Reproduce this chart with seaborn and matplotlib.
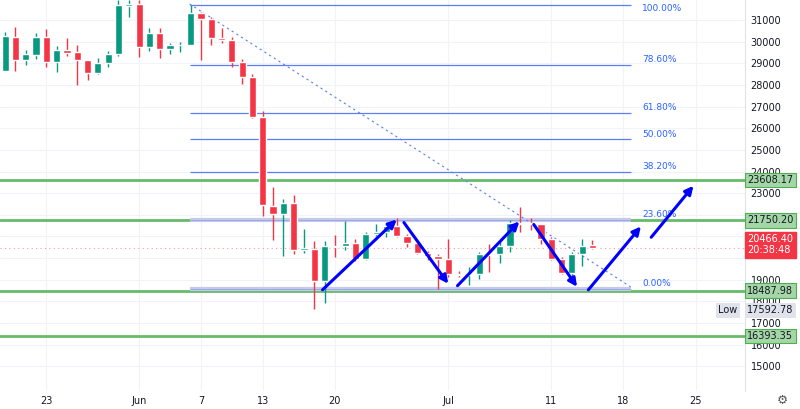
import matplotlib
matplotlib.use("Agg")
import matplotlib.pyplot as plt
import seaborn as sns
import numpy as np

# daily candles, May 19 .. Jul 15
opens = [28640, 30240, 29140, 29370, 30240, 29050, 29600, 29510, 29140, 28550,
         29000, 29420, 31660, 31750, 29740, 30420, 29650, 29830, 29870, 31340,
         31060, 30150, 30060, 29050, 28370, 26540, 22420, 22050, 22560, 20360,
         20410, 18950, 20550, 20550, 20680, 19950, 21090, 21190, 21460, 21000,
         20680, 20230, 20090, 19950, 19270, 19220, 19270, 20180, 20180, 20550,
         21600, 21600, 21550, 20870, 19950, 19310, 20180, 20590]
highs = [30470, 30700, 29600, 30420, 30600, 29780, 30150, 29830, 29140, 29230,
         29550, 31930, 31930, 31930, 30650, 30650, 29920, 30010, 31700, 31380,
         31150, 30650, 30240, 29190, 28500, 26810, 23290, 22740, 22920, 21320,
         20770, 20770, 21050, 21730, 20870, 21190, 21550, 21550, 21870, 21090,
         20730, 20320, 20180, 20870, 19400, 19590, 20270, 20640, 20820, 21780,
         22380, 21870, 21550, 20960, 20040, 20270, 20870, 20820]
lows = [28640, 28640, 28910, 29190, 28820, 28590, 29320, 27990, 28230, 28500,
        28820, 29320, 31150, 29280, 29550, 29230, 29420, 29510, 29830, 29140,
        29830, 29920, 28820, 28040, 26490, 21920, 20820, 20090, 20180, 20230,
        17620, 17940, 20040, 20360, 19860, 19910, 21000, 20960, 20960, 20500,
        20180, 19910, 18580, 19130, 19130, 18760, 19040, 19360, 19770, 20270,
        21190, 21280, 20640, 19910, 19270, 19130, 19630, 20410]
closes = [30280, 29140, 29420, 30240, 29050, 29600, 29460, 29140, 28550, 29000,
          29420, 31700, 31750, 29740, 30420, 29650, 29830, 29870, 31340, 31060,
          30150, 30060, 29050, 28370, 26540, 22470, 22050, 22560, 20360, 20450,
          18950, 20550, 20500, 20680, 19950, 21090, 21190, 21460, 21000, 20680,
          20230, 20090, 19950, 19270, 19220, 19270, 20180, 20160, 20550, 21600,
          21570, 21580, 20870, 19950, 19310, 20180, 20550, 20466]

support_levels = [23608.17, 21750.20, 18487.98, 16393.35]
fib_labels = ["100.00%", "78.60%", "61.80%", "50.00%", "38.20%", "23.60%", "0.00%"]
fib_prices = [31700, 28910, 26720, 25480, 23970, 21780, 18580]
current_price = 20466.40
low_price = 17592.78

price_ticks = [15000, 16000, 17000, 18000, 19000, 21000, 23000, 24000, 25000,
               26000, 27000, 28000, 29000, 30000, 31000]
tick_pos = [4, 13, 19, 25, 32, 43, 53, 60, 67]
tick_labels = ["23", "Jun", "7", "13", "20", "Jul", "11", "18", "25"]

# swing arrows (day index, price)
arrows = [((30.8, 18530), (38.0, 21780)), ((38.7, 21640), (43.0, 18810)),
          ((43.9, 18720), (49.9, 21690)), ((51.3, 21550), (55.5, 18670)),
          ((56.6, 18530), (61.7, 21460)), ((62.7, 20960), (66.8, 23340))]
trend = [(17.9, 31750), (60.7, 18670)]

sns.set_style("white")
fig = plt.figure(figsize=(8, 4.09), dpi=100)
ax = fig.add_axes([0, 0.045, 745 / 800, 0.955])

GREEN, RED = "#089981", "#f23645"
idx = np.arange(len(opens))
o, h, l, c = map(np.array, (opens, highs, lows, closes))
cols = [GREEN if cc >= oo else RED for oo, cc in zip(o, c)]
ax.vlines(idx, l, h, colors=cols, linewidth=1, zorder=3)
body = np.maximum(np.abs(c - o), 40)
ax.bar(idx, body, bottom=np.minimum(o, c), width=0.7, color=cols, zorder=4)

for p in support_levels:
    ax.axhline(p, color="#66bb6a", linewidth=2, zorder=2)

for lab, p in zip(fib_labels, fib_prices):
    lw = 3 if lab in ("0.00%", "23.60%") else 0.9
    col = "#c5cae9" if lw == 3 else "#5b7ff0"
    ax.hlines(p, 17.9, 60.7, color=col, linewidth=lw, zorder=2)
    if lw == 3:
        ax.hlines(p, 17.9, 60.7, color="#5b7ff0", linewidth=0.6, alpha=0.5, zorder=2)
    off = -150 if lab == "100.00%" else 250
    ax.text(61.8, p + off, lab, color="#2962ff", fontsize=6.5, va="center")

ax.plot([trend[0][0], trend[1][0]], [trend[0][1], trend[1][1]],
        color="#5b7ff0", linestyle=(0, (2, 3)), linewidth=0.8, zorder=2)
ax.axhline(current_price, color="#f23645", linestyle=(0, (1, 3)), linewidth=0.8, alpha=0.5)

for (x0, y0), (x1, y1) in arrows:
    ax.annotate("", xy=(x1, y1), xytext=(x0, y0),
                arrowprops=dict(arrowstyle="-|>", color="#0000ff", lw=2.2,
                                mutation_scale=12, shrinkA=0, shrinkB=0), zorder=6)

ax.set_xlim(-0.5, 71.8)
ax.set_ylim(13870, 31930)
ax.set_xticks(tick_pos)
ax.set_xticklabels(tick_labels, fontsize=7, color="#131722")
ax.yaxis.tick_right()
ax.set_yticks(price_ticks)
ax.set_yticklabels([str(v) for v in price_ticks], fontsize=7, color="#131722")
ax.set_yticks(np.arange(15000, 31001, 1000), minor=True)
ax.tick_params(length=0, pad=4)
ax.tick_params(which="minor", length=0)
ax.grid(True, which="both", color="#f0f3fa", linewidth=0.8)
for s in ax.spines.values():
    s.set_visible(False)
ax.spines["right"].set_visible(True)
ax.spines["right"].set_color("#e0e3eb")

tx = 1.003
for p in support_levels:
    ax.text(tx, p, f"{p:.2f}", transform=ax.get_yaxis_transform(), fontsize=7,
            va="center", color="#131722",
            bbox=dict(boxstyle="square,pad=0.25", fc="#a5d6a7", ec="#4caf50", lw=0.8))
ax.text(tx, current_price + 150, f"{current_price:.2f}\n20:38:48",
        transform=ax.get_yaxis_transform(), fontsize=7, va="center", color="white",
        linespacing=1.1, bbox=dict(boxstyle="square,pad=0.25", fc="#f23645", ec="#f23645"))
ax.text(0.99, low_price, "Low", transform=ax.get_yaxis_transform(), fontsize=7,
        ha="right", va="center", color="#131722",
        bbox=dict(boxstyle="square,pad=0.25", fc="#e0e3eb", ec="none"))
ax.text(tx, low_price, f"{low_price:.2f}", transform=ax.get_yaxis_transform(),
        fontsize=7, va="center", color="#131722",
        bbox=dict(boxstyle="square,pad=0.25", fc="#e0e3eb", ec="none"))

fig.text(0.978, 0.02, "\u2699", fontsize=9, color="#555555", ha="center", va="center")
fig.savefig("out.png", dpi=100)
